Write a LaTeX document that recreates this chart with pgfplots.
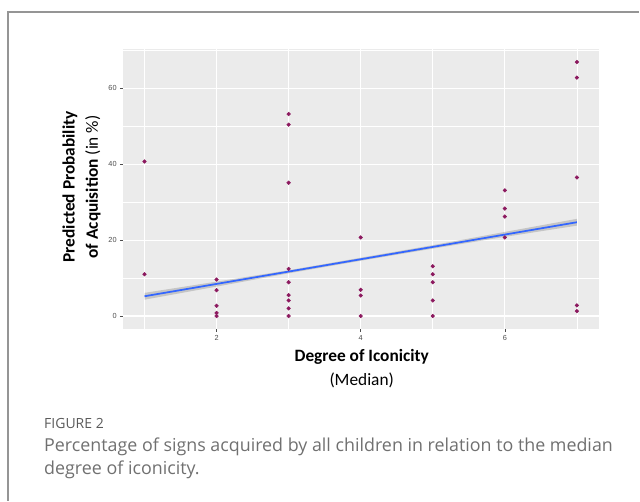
\documentclass[border=0pt]{standalone}
\usepackage{pgfplots}
\pgfplotsset{compat=1.18}
\usepackage{fontspec}
\setmainfont{Open Sans}
\newfontfamily\carlito{Carlito}
\newfontfamily\tickfont{Liberation Sans}
\definecolor{panel}{HTML}{EBEBEB}
\definecolor{ptc}{RGB}{140,25,95}
\definecolor{smooth}{HTML}{3366FF}
\definecolor{tickc}{HTML}{4D4D4D}
\definecolor{capc}{HTML}{707070}
\definecolor{figc}{HTML}{5A5A5A}
\definecolor{framec}{HTML}{959595}
\pgfplotstableread{
x y
1 40.7
1 11.0
2 9.6
2 6.8
2 2.7
2 0.8
2 0.0
3 53.2
3 50.4
3 35.1
3 12.4
3 8.9
3 5.5
3 4.1
3 2.0
3 0.0
4 20.7
4 6.9
4 5.4
4 0.0
5 13.1
5 11.0
5 8.9
5 4.1
5 0.0
6 33.1
6 28.3
6 26.2
6 20.7
7 66.9
7 62.8
7 36.5
7 2.8
7 1.3
}\pts
\begin{document}
\begin{tikzpicture}[x=0.75pt,y=-0.75pt]
\path (0,0) rectangle (640,501);
\draw[color=framec, line width=0.8pt] (8,501) -- (8,12) -- (640,12);
\begin{axis}[
  at={(92.25pt,-246.75pt)}, anchor=south west,
  width=357pt, height=210pt, scale only axis,
  xmin=0.7, xmax=7.3, ymin=-3.35, ymax=70.35,
  axis background/.style={fill=panel},
  axis line style={draw=none},
  xtick={2,4,6}, ytick={0,20,40,60},
  minor xtick={1,3,5,7}, minor ytick={10,30,50,70},
  grid=both,
  major grid style={white, line width=0.8pt},
  minor grid style={white, line width=0.4pt},
  tick align=outside, tick pos=left,
  major tick length=2.2pt, minor tick length=0pt,
  tick style={color=tickc, line width=0.45pt},
  ticklabel style={font=\tickfont\fontsize{5.5}{6}\selectfont, text=tickc},
  xticklabel style={yshift=1pt},
  yticklabel style={xshift=1pt},
  /pgf/number format/assume math mode=true,
]
\addplot[fill=gray, fill opacity=0.35, draw=none] coordinates {
 (1,4.3) (2,7.75) (3,11.25) (4,14.55) (5,17.75) (6,20.85) (7,23.8)
 (7,25.6) (6,22.15) (5,18.65) (4,15.35) (3,12.05) (2,9.05) (1,6.1)} -- cycle;
\addplot[color=smooth, line width=1.3pt] coordinates {(1,5.2) (7,24.7)};
\addplot[only marks, mark=*, mark size=1.35pt, color=ptc] table[x=x,y=y] {\pts};
\end{axis}
\node[font=\carlito\bfseries\fontsize{13}{15}\selectfont] at (362,357) {Degree of Iconicity};
\node[font=\carlito\fontsize{13}{15}\selectfont] at (362,381) {(Median)};
\node[rotate=90, font=\carlito\bfseries\fontsize{13}{15}\selectfont] at (70,187) {Predicted Probability};
\node[rotate=90, font=\carlito\fontsize{13}{15}\selectfont] at (93,187) {\textbf{of Acquisition} (in \%)};
\node[anchor=west, inner sep=0pt, text=figc, font=\fontsize{10.5}{12}\selectfont] at (44,424) {FIGURE 2};
\node[anchor=west, inner sep=0pt, text=capc, font=\fontsize{13.4}{15}\selectfont] at (44,447) {Percentage of signs acquired by all children in relation to the median};
\node[anchor=west, inner sep=0pt, text=capc, font=\fontsize{13.4}{15}\selectfont] at (44,470) {degree of iconicity.};
\end{tikzpicture}
\end{document}
